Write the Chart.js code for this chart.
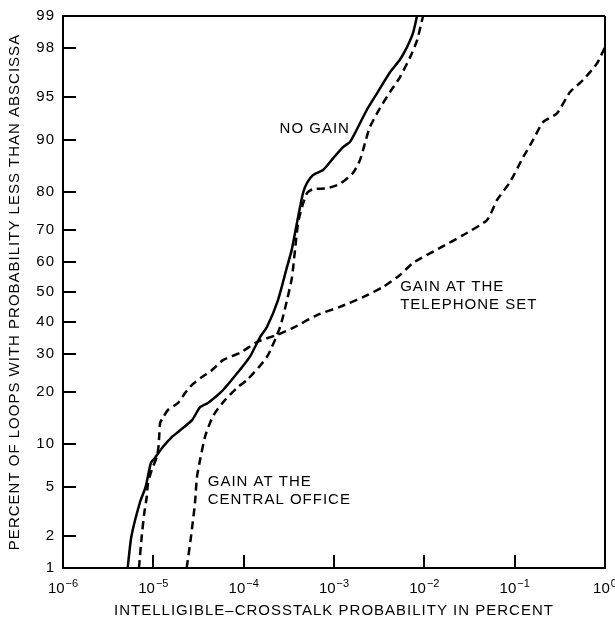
<!DOCTYPE html>
<html><head><meta charset="utf-8">
<script src="https://cdn.jsdelivr.net/npm/chart.js@4.4.0/dist/chart.umd.min.js"></script>
<style>html,body{margin:0;padding:0;background:#fff}#wrap{width:615px;height:620px}</style>
</head><body><div id="wrap"><canvas id="c" width="615" height="620"></canvas></div>
<script>
// ---------- data ----------
const xTicks = [1e-6, 1e-5, 1e-4, 1e-3, 1e-2, 1e-1, 1];
const yTicks = [1, 2, 5, 10, 20, 30, 40, 50, 60, 70, 80, 90, 95, 98, 99];
const xInnerTicks = [1e-5, 1e-4, 1e-3, 1e-2, 1e-1];
const yInnerTicks = [2, 5, 10, 20, 30, 40, 50, 60, 70, 80, 90, 95, 98];

const noGainX = [5.2e-6,5.7e-6,7.1e-6,8.2e-6,9.4e-6,1.04e-5,1.28e-5,1.61e-5,1.88e-5,2.68e-5,3.29e-5,4.03e-5,5.9e-5,9.1e-5,1.17e-4,1.52e-4,1.81e-4,2.4e-4,3.02e-4,3.4e-4,4.0e-4,4.54e-4,5.03e-4,5.86e-4,7.55e-4,9.75e-4,1.26e-3,1.5e-3,1.71e-3,2.32e-3,2.99e-3,4.17e-3,5.38e-3,6.43e-3,7.5e-3,8.3e-3];
const noGainY = [1,1.95,3.8,5.0,7.5,8.1,9.6,11.1,11.9,14.0,16.6,17.5,20.4,25.6,29.2,35.2,38.4,47.3,58.4,63.8,73.6,79.8,82.1,83.8,84.8,87.0,88.9,89.7,91.0,93.8,95.3,96.8,97.5,98.05,98.55,99];

const centralX = [2.34e-5,2.61e-5,2.89e-5,3.04e-5,3.29e-5,3.73e-5,4.24e-5,4.81e-5,6.21e-5,8.66e-5,1.09e-4,1.81e-4,2.53e-4,3.02e-4,3.43e-4,3.7e-4,4.0e-4,4.42e-4,5.03e-4,5.86e-4,8.37e-4,1.16e-3,1.62e-3,1.94e-3,2.2e-3,2.5e-3,3.23e-3,4.17e-3,5.38e-3,6.94e-3,8.3e-3,9.67e-3];
const centralY = [1,1.95,3.77,5.95,7.84,11.1,13.5,15.4,18.1,21.2,22.9,29.2,38.4,47.3,55.0,63.8,71.9,76.3,79.8,80.7,80.9,81.9,84.2,86.7,89.5,91.8,93.95,95.4,96.5,97.6,98.3,99];

const phoneX = [6.93e-6,7.43e-6,7.94e-6,8.45e-6,8.73e-6,9.59e-6,1.09e-5,1.14e-5,1.16e-5,1.19e-5,1.29e-5,1.45e-5,1.88e-5,2.24e-5,2.68e-5,3.46e-5,4.35e-5,5.91e-5,9.1e-5,1.41e-4,2.34e-4,3.52e-4,6.49e-4,1.16e-3,2.1e-3,3.49e-3,5.38e-3,7.5e-3,1.49e-2,2.68e-2,4.94e-2,6.38e-2,8.88e-2,0.124,0.16,0.206,0.294,0.41,0.571,0.816,1];
const phoneY = [1,1.95,3.12,4.2,5.37,6.68,8.2,9.6,11.1,13.5,14.6,16.0,17.5,19.7,21.7,23.7,25.3,28.3,30.4,33.7,35.9,38.1,42.3,45.0,48.3,51.7,55.7,59.7,64.5,68.4,72.8,78.1,82.3,87.2,90.0,92.4,93.4,95.4,96.3,97.3,98.05];

const curveLabels = [
  {lines: ['NO GAIN'], x: 2.5e-4, y: 91.6},
  {lines: ['GAIN AT THE', 'TELEPHONE SET'], x: 5.4e-3, y: 51.7},
  {lines: ['GAIN AT THE', 'CENTRAL OFFICE'], x: 4.0e-5, y: 5.5}
];
const xTitle = 'INTELLIGIBLE\u2013CROSSTALK PROBABILITY IN PERCENT';
const yTitle = 'PERCENT OF LOOPS WITH PROBABILITY LESS THAN ABSCISSA';

// ---------- probability (normal) scale ----------
function probit(p) {
  const a=[-3.969683028665376e+01,2.209460984245205e+02,-2.759285104469687e+02,1.383577518672690e+02,-3.066479806614716e+01,2.506628277459239e+00];
  const b=[-5.447609879822406e+01,1.615858368580409e+02,-1.556989798598866e+02,6.680131188771972e+01,-1.328068155288572e+01];
  const c=[-7.784894002430293e-03,-3.223964580411365e-01,-2.400758277161838e+00,-2.549732539343734e+00,4.374664141464968e+00,2.938163982698783e+00];
  const d=[7.784695709041462e-03,3.224671290700398e-01,2.445134137142996e+00,3.754408661907416e+00];
  const pl=0.02425, ph=1-pl; let q, r;
  if (p < pl) { q=Math.sqrt(-2*Math.log(p)); return (((((c[0]*q+c[1])*q+c[2])*q+c[3])*q+c[4])*q+c[5])/((((d[0]*q+d[1])*q+d[2])*q+d[3])*q+1); }
  if (p <= ph) { q=p-0.5; r=q*q; return (((((a[0]*r+a[1])*r+a[2])*r+a[3])*r+a[4])*r+a[5])*q/(((((b[0]*r+b[1])*r+b[2])*r+b[3])*r+b[4])*r+1); }
  q=Math.sqrt(-2*Math.log(1-p)); return -(((((c[0]*q+c[1])*q+c[2])*q+c[3])*q+c[4])*q+c[5])/((((d[0]*q+d[1])*q+d[2])*q+d[3])*q+1);
}
function normcdf(z) {
  const t = 1/(1+0.2316419*Math.abs(z));
  const y = t*(0.319381530+t*(-0.356563782+t*(1.781477937+t*(-1.821255978+t*1.330274429))));
  const v = 1 - Math.exp(-z*z/2)/Math.sqrt(2*Math.PI)*y;
  return z >= 0 ? v : 1 - v;
}
class ProbitScale extends Chart.Scale {
  static id = 'probit';
  static defaults = {};
  parse(raw) { return (typeof raw === 'number' && isFinite(raw)) ? raw : null; }
  determineDataLimits() { this.min = this.options.min; this.max = this.options.max; }
  buildTicks() { return []; }
  getLabelForValue(v) { return String(v); }
  configure() {
    super.configure();
    this._zmin = probit(this.min / 100);
    this._zmax = probit(this.max / 100);
  }
  getPixelForValue(v) {
    const p = Math.min(Math.max(v, 1e-4), 100 - 1e-4) / 100;
    return this.getPixelForDecimal((probit(p) - this._zmin) / (this._zmax - this._zmin));
  }
  getValueForPixel(px) {
    return 100 * normcdf(this._zmin + this.getDecimalForPixel(px) * (this._zmax - this._zmin));
  }
}
Chart.register(ProbitScale);

const pairs = (xs, ys) => xs.map((x, i) => ({x, y: ys[i]}));
const FONT = 'Liberation Sans, Arial, sans-serif';

const decor = {
  id: 'decor',
  beforeDraw(chart) { chart.ctx.letterSpacing = '1px'; },
  afterDraw(chart) {
    const {ctx, chartArea: a, scales: {x, y}} = chart;
    ctx.save();
    ctx.strokeStyle = '#000';
    ctx.lineWidth = 2;
    ctx.beginPath();
    ctx.moveTo(a.left, a.top); ctx.lineTo(a.right, a.top);
    ctx.moveTo(a.right, a.top); ctx.lineTo(a.right, a.bottom);
    yInnerTicks.forEach(v => { const py = Math.round(y.getPixelForValue(v)); ctx.moveTo(a.left, py); ctx.lineTo(a.left + 13, py); });
    xInnerTicks.forEach(v => { const px = Math.round(x.getPixelForValue(v)); ctx.moveTo(px, a.bottom); ctx.lineTo(px, a.bottom - 13); });
    ctx.stroke();
    ctx.fillStyle = '#000';
    // x tick labels: 10 with a raised exponent
    ctx.letterSpacing = '0px';
    ctx.textBaseline = 'alphabetic';
    ctx.textAlign = 'left';
    const baseY = a.bottom + 25;
    xTicks.forEach(v => {
      const e = Math.round(Math.log10(v));
      const exp = e < 0 ? '\u2212' + Math.abs(e) : String(e);
      ctx.font = '15px ' + FONT;
      const w1 = ctx.measureText('10').width;
      ctx.font = '11px ' + FONT;
      const w2 = ctx.measureText(exp).width;
      const px = x.getPixelForValue(v);
      const left = px - (w1 + 1 + w2) / 2;
      ctx.font = '15px ' + FONT;
      ctx.fillText('10', left, baseY);
      ctx.font = '11px ' + FONT;
      ctx.fillText(exp, left + w1 + 1, baseY - 6);
    });
    // curve labels
    ctx.font = '15px ' + FONT;
    ctx.letterSpacing = '1px';
    ctx.textAlign = 'left';
    ctx.textBaseline = 'middle';
    curveLabels.forEach(l => {
      const px = x.getPixelForValue(l.x), py = y.getPixelForValue(l.y);
      l.lines.forEach((t, i) => ctx.fillText(t, px, py + i * 18));
    });
    ctx.restore();
  }
};

const lineStyle = {borderColor: '#000', borderWidth: 2.5, pointRadius: 0, tension: 0.2, fill: false};
new Chart(document.getElementById('c'), {
  type: 'line',
  data: {
    datasets: [
      Object.assign({label: 'NO GAIN', data: pairs(noGainX, noGainY)}, lineStyle),
      Object.assign({label: 'GAIN AT THE CENTRAL OFFICE', data: pairs(centralX, centralY), borderDash: [8, 5]}, lineStyle),
      Object.assign({label: 'GAIN AT THE TELEPHONE SET', data: pairs(phoneX, phoneY), borderDash: [8, 5]}, lineStyle)
    ]
  },
  options: {
    responsive: false,
    animation: false,
    devicePixelRatio: 1,
    layout: {padding: {top: 16, right: 10, left: 0, bottom: 0}, autoPadding: false},
    plugins: {legend: {display: false}, tooltip: {enabled: false}},
    scales: {
      x: {
        type: 'logarithmic', min: 1e-6, max: 1, position: 'bottom',
        afterBuildTicks: s => { s.ticks = xTicks.map(v => ({value: v})); },
        afterFit: s => { s.height = 52; s.paddingLeft = 0; s.paddingRight = 0; },
        grid: {display: false, drawTicks: false},
        border: {display: true, color: '#000', width: 2},
        ticks: {display: false},
        title: {display: true, text: xTitle, color: '#000', font: {family: FONT, size: 15}, padding: {top: 0, bottom: 0}}
      },
      y: {
        type: 'probit', min: 1, max: 99, position: 'left',
        afterBuildTicks: s => { s.ticks = yTicks.map(v => ({value: v})); },
        afterFit: s => { s.width = 63; s.paddingTop = 0; s.paddingBottom = 0; },
        grid: {display: false, drawTicks: false},
        border: {display: true, color: '#000', width: 2},
        ticks: {callback: v => String(v), color: '#000', font: {family: FONT, size: 15}, padding: 8, autoSkip: false},
        title: {display: true, text: yTitle, color: '#000', font: {family: FONT, size: 15}, padding: {top: 6, bottom: 0}}
      }
    }
  },
  plugins: [decor]
});
</script></body></html>
